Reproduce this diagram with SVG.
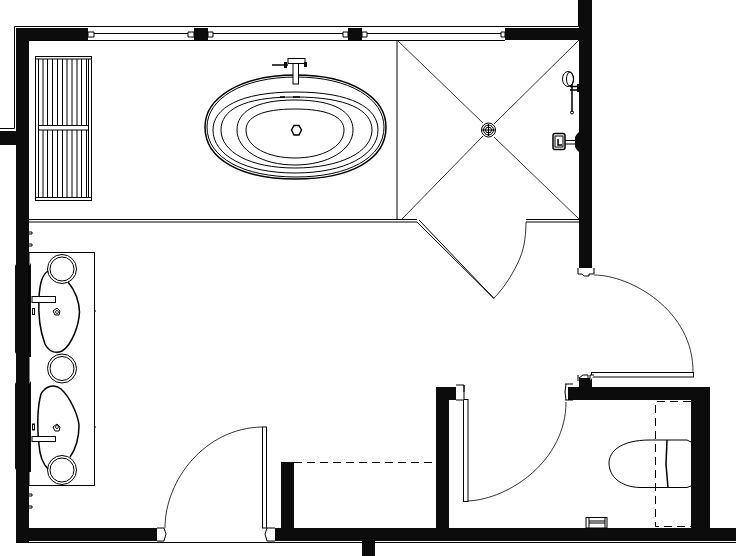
<svg xmlns="http://www.w3.org/2000/svg" width="736" height="556" viewBox="0 0 736 556">
<style>
.w{fill:#0c0c0c;stroke:none}
.l{fill:none;stroke:#000;stroke-width:1}
.m{fill:none;stroke:#000;stroke-width:1.500}
.t{fill:none;stroke:#000;stroke-width:.8}
.o{fill:#fff;stroke:#000;stroke-width:1}
.d{fill:none;stroke:#000;stroke-width:1;stroke-dasharray:8 5}
</style>
<rect width="736" height="556" fill="#fff"/>
<g id="walls">
<path class="w" d="M16 28H88V40H29V528H163V541H29V542H16Z"/>
<rect class="w" x="0" y="131" width="16" height="14"/>
<rect class="w" x="194" y="28" width="14" height="12"/>
<rect class="w" x="348" y="28" width="14" height="12"/>
<path class="w" d="M505 28H579V0H592V270H579V40H505Z"/>
<rect class="w" x="579" y="378" width="13" height="10"/>
<path class="w" d="M568 387H710V528H736V541H269V528H281V462H294V528H436V387H458V400H449V528H691V400H568Z"/>
<rect class="w" x="362" y="541" width="13" height="15"/>
<path class="w" d="M15 266L16 264V354L15 352ZM29 266L31 263V357H29ZM15 384L16 382V470L15 468ZM29 384L31 381V472H29Z"/>
</g>
<g id="connectors">
<path class="l" d="M0 128.500H14.500V26.500H578.500V0"/>
<path class="l" d="M16 542.500H736"/>
<path class="l" d="M88 33.500H194M208 33.500H348M362 33.500H505M29 40.500H505"/>
<path class="l" d="M29 219.500H417M29 222H417L494 298.500L419 220M526 219.500H579M526 222H579"/>
<path class="l" d="M397 40V219"/>
<path class="t" d="M397 40L483 123M579 40L494 124M401 220L483 136M579 219L494 137"/>
<path class="t" d="M494 298C505 287 514 272 520 258C525 246 526 232 526 222"/>
<path class="t" d="M594 275C630 275 694 310 693 373"/>
<path class="t" d="M165 528C165 480 205 428 262 427"/>
<path class="t" d="M468 501C510 499 566 460 566 402"/>
<path class="d" d="M294 462.500H436"/>
</g>
<g id="door-leaves">
<rect class="o" x="591.500" y="372.500" width="102" height="4.500"/>
<rect class="o" x="262.500" y="427" width="4" height="101"/>
<rect class="o" x="463.500" y="399.500" width="4.500" height="102"/>
</g>
<g id="jambs" fill="#fff" stroke="#000" stroke-width="1">
<path d="M578 268V274H582L584 276H589V274H594V268"/>
<path d="M578 375V381M594 375H590V381M579 378L583 375H588V378"/>
<path d="M565 384H573M565 400H573M566 384L565 392L566 400"/>
<path d="M456 385H464V400H456M464 385V392"/>
<path d="M157 528H164L166 534L164 541H157"/>
<path d="M275 528H267L265 534L267 541H275"/>
<path d="M88 32H94V37H88ZM194 32H188V37H194ZM208 32H213V37H208ZM348 32H343V37H348ZM362 32H367V37H362ZM505 32H501V37H505Z"/>
</g>
<g id="radiator">
<rect class="l" x="35.500" y="56.500" width="56" height="144"/>
<path class="l" d="M36 59H91M36 197.500H91M38.500 59V197M43 59V197M47.500 59V197M52.500 59V197M57.500 59V197M62.500 59V197M67 59V197M72 59V197M77 59V197M81.500 59V197M86.500 59V197M88.500 59V197"/>
<rect class="o" x="38.500" y="125.500" width="50" height="4.500"/>
</g>
<g id="bathtub">
<path class="m" d="M296 75C352 75 386 98 386 127C386 160 350 179 296 179C242 179 205 160 205 127C205 98 240 75 296 75Z"/>
<path class="l" d="M296 77C350 77 384 99 384 127C384 158 348 177 296 177C244 177 207 158 207 127C207 99 242 77 296 77Z"/>
<path class="l" d="M295 92C352 92 378 108 378 130C378 155 345 173 295 173C245 173 213 155 213 130C213 108 240 92 295 92Z"/>
<path class="l" d="M295 97C347 97 372 110 372 130C372 152 340 168 295 168C250 168 221 152 221 130C221 110 243 97 295 97Z"/>
<path class="l" d="M295 100C335 100 353 112 353 130C353 150 328 165 295 165C262 165 237 150 237 130C237 112 255 100 295 100Z"/>
<path class="l" d="M295 109C328 109 344 117 344 130C344 147 322 158 295 158C268 158 246 147 246 130C246 117 262 109 295 109Z"/>
<path class="m" d="M291.500 130L294 125.500H299L301.500 130L299 135H294Z"/>
<rect class="o" x="293" y="62" width="5.500" height="22"/>
<rect class="o" x="288" y="58.500" width="17" height="5"/>
<path class="m" d="M272 65H288"/>
<rect class="w" x="284" y="62" width="3" height="6"/>
<rect class="w" x="304" y="62" width="3" height="5"/>
<path class="m" d="M280 97H285M293 97H300"/>
</g>
<g id="shower-drain">
<circle class="l" cx="488.500" cy="130" r="7"/>
<circle class="l" cx="488.500" cy="130" r="5"/>
<circle class="l" cx="488.500" cy="130" r="3"/>
<path class="l" d="M482 130H495M488.500 124V136"/>
</g>
<g id="shower-head">
<ellipse class="l" cx="568" cy="79" rx="5.500" ry="7.500"/>
<ellipse class="l" cx="570" cy="79" rx="3.500" ry="7"/>
<path class="m" d="M572 84V112"/>
<circle class="l" cx="572" cy="112.500" r="1.500"/>
<path class="m" d="M570 86.500H578M570 90H578"/>
<rect class="w" x="577" y="84" width="2" height="8"/>
</g>
<g id="shower-valve">
<rect class="m" x="553" y="133.500" width="12" height="16" rx="2"/>
<rect class="l" x="555" y="136" width="8" height="11"/>
<path class="m" d="M558 139V145H562"/>
<path class="l" d="M565 140.500H577M565 144H577"/>
<path class="w" d="M579 132V152L577 150L575 147V137L577 134Z"/>
</g>
<g id="vanity">
<rect class="l" x="29" y="252.500" width="65.500" height="233"/>
<path class="l" d="M94 311H96M94 427H96M29 232H32V234H29M29 244H32V246H29M29 494H32V496H29M29 506H32V508H29"/>
<circle class="l" cx="62" cy="269" r="14.500"/>
<circle class="l" cx="62" cy="269" r="12"/>
<circle class="l" cx="62" cy="368.500" r="14.500"/>
<circle class="l" cx="62" cy="368.500" r="12"/>
<circle class="l" cx="62" cy="470" r="14.500"/>
<circle class="l" cx="62" cy="470" r="12"/>
<path class="m" d="M48 271C42 275 40 283 39 297C38 315 40 331 45 344C49 352 56 354 62 351C72 345 79 325 79.500 312C79 298 73 288 68 282"/>
<path class="m" d="M48 469C43 464 40 458 39 445C37 425 38 405 41 394C46 385 55 384 61 389C70 397 78 415 79 425C79 438 75 450 70 457"/>
<rect class="o" x="32" y="296.500" width="23.500" height="6"/>
<rect class="o" x="32" y="436.500" width="23.500" height="5"/>
<rect class="o" x="32.500" y="308.500" width="2" height="6"/>
<rect class="o" x="32.500" y="424" width="2" height="6"/>
<path class="l" d="M53 311L57 308L60 311L59 315H55Z"/>
<path class="l" d="M53 427L57 424L60 427L59 431H55Z"/>
<circle class="t" cx="57" cy="312" r="1.500"/>
<circle class="t" cx="57" cy="427" r="1.500"/>
</g>
<g id="toilet">
<path class="d" d="M691 401.500H655.500V526.500H691"/>
<path class="l" d="M691 442L687 440H650C620 440 609 452 609 463C609 476 620 487 640 487.500H687L691 486"/>
<path class="m" d="M667 440L666 464L668 488"/>
</g>
<g id="toilet-fixture">
<rect class="l" x="586" y="517.500" width="21" height="10.500"/>
<path class="l" d="M589 517.500V528M605 517.500V528M589 521H605M589 523H605"/>
</g>
</svg>
